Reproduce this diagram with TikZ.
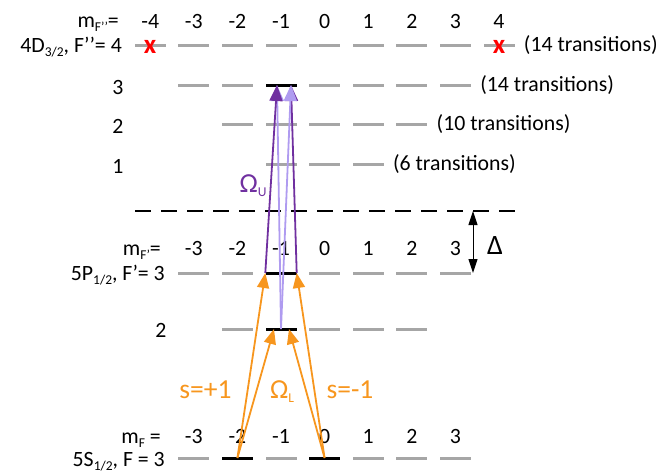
\documentclass[tikz,border=0pt]{standalone}
\usepackage{fontspec}
\setmainfont{Carlito}
\usetikzlibrary{arrows.meta, positioning, calc}

\definecolor{lvlgray}{RGB}{166,166,166}
\definecolor{pumporange}{RGB}{247,150,30}
\definecolor{updark}{RGB}{112,48,160}
\definecolor{uplight}{RGB}{175,155,240}

\newcommand{\sublbl}[1]{\raisebox{-4.5pt}[0pt][0pt]{\fontsize{13.5}{15}\selectfont #1}}

\begin{document}
\begin{tikzpicture}[
    x=1pt, y=-1pt,
    lvl/.style={fill=lvlgray, inner sep=0pt, minimum width=31pt, minimum height=3pt},
    lvlon/.style={lvl, fill=black},
    num/.style={font=\fontsize{21.8}{26}\selectfont, inner sep=0pt},
    lbl/.style={num, anchor=base east},
    trans/.style={num, anchor=west, xshift=9pt},
    xmark/.style={font=\fontsize{27}{30}\selectfont\bfseries, text=red, inner sep=0pt, yshift=-2pt},
    biglbl/.style={font=\fontsize{27.5}{30}\selectfont, inner sep=0pt, anchor=base},
    pump/.style={draw=pumporange, line width=1.8pt, -{Triangle[width=12pt,length=15pt]}},
    coupdark/.style={draw=updark, line width=1.8pt, -{Triangle[width=13pt,length=16pt]}},
    couplight/.style={draw=uplight, line width=1.8pt, -{Triangle[width=13pt,length=16pt]}},
    virt/.style={draw=black, line width=1.2pt, dash pattern=on 16pt off 10pt},
    detune/.style={draw=black, line width=1pt, {Triangle[width=9pt,length=14pt]}-{Triangle[width=9pt,length=14pt]}}
]
\useasboundingbox (0,0) rectangle (660,474);

% -------------------------------------------------------------------------
% Zeeman sublevels, column x = 324.6 + 43.6*m
% -------------------------------------------------------------------------

% 4D_3/2, F'' = 4 ... 1
\foreach \m in {-4,...,4}
    \node[lvl] (D4m\m) at ({324.6+43.6*(\m)}, 45) {};
\foreach \m/\sty in {-3/lvl,-2/lvl,-1/lvlon,0/lvl,1/lvl,2/lvl,3/lvl}
    \node[\sty] (D3m\m) at ({324.6+43.6*(\m)}, 85) {};
\foreach \m in {-2,...,2}
    \node[lvl] (D2m\m) at ({324.6+43.6*(\m)}, 124) {};
\foreach \m in {-1,...,1}
    \node[lvl] (D1m\m) at ({324.6+43.6*(\m)}, 164) {};

% 5P_1/2, F' = 3 and 2
\foreach \m/\sty in {-3/lvl,-2/lvl,-1/lvlon,0/lvl,1/lvl,2/lvl,3/lvl}
    \node[\sty] (P3m\m) at ({324.6+43.6*(\m)}, 273) {};
\foreach \m/\sty in {-2/lvl,-1/lvlon,0/lvl,1/lvl,2/lvl}
    \node[\sty] (P2m\m) at ({324.6+43.6*(\m)}, 329) {};

% 5S_1/2, F = 3
\foreach \m/\sty in {-3/lvl,-2/lvlon,-1/lvl,0/lvlon,1/lvl,2/lvl,3/lvl}
    \node[\sty] (S3m\m) at ({324.6+43.6*(\m)}, 458) {};

% m_F numbers above each manifold
\foreach \m in {-4,...,4}
    \node[num] (nD\m) at ({324.6+43.6*(\m)}, 21.5) {\m};
\foreach \m in {-3,...,3}
    \node[num] (nP\m) at ({324.6+43.6*(\m)}, 248.5) {\m};
\foreach \m in {-3,...,3}
    \node[num] (nS\m) at ({324.6+43.6*(\m)}, 436.5) {\m};

% -------------------------------------------------------------------------
% Left labels
% -------------------------------------------------------------------------
\node[lbl] (mFD) at (119,27) {m\sublbl{F’’}=};
\node[lbl] (lblD4) at (122,52) {4D\sublbl{3/2}, F’’= 4};
\node[num] (lblD3) at (118,87.5) {3};
\node[num] (lblD2) at (118,126.5) {2};
\node[num] (lblD1) at (118,166.5) {1};
\node[lbl] (mFP) at (161,255) {m\sublbl{F’}=};
\node[lbl] (lblP3) at (165,280) {5P\sublbl{1/2}, F’= 3};
\node[num] (lblP2) at (161,330) {2};
\node[lbl] (mFS) at (161,443) {m\sublbl{F} =};
\node[lbl] (lblS3) at (165,466) {5S\sublbl{1/2}, F = 3};

% Right labels
\node[trans] (tD4) at (D4m4.east) {(14 transitions)};
\node[trans] (tD3) at (D3m3.east) {(14 transitions)};
\node[trans] (tD2) at (D2m2.east) {(10 transitions)};
\node[trans] (tD1) at (D1m1.east) {(6 transitions)};

% forbidden stretched states
\node[xmark] (xL) at (D4m-4) {x};
\node[xmark] (xR) at (D4m4) {x};

% -------------------------------------------------------------------------
% Virtual level and detuning
% -------------------------------------------------------------------------
\coordinate (vL) at (135,211);
\coordinate (vR) at (515,211);
\draw[virt] (vL) -- (vR);
\coordinate (dTop) at (473,211);
\coordinate (dBot) at (473,273);
\draw[detune] (dTop) -- (dBot);
\node[num, font=\fontsize{28}{30}\selectfont] (lblDelta) at (495,246) {Δ};

% -------------------------------------------------------------------------
% Lower (orange) and upper (purple) couplings
% -------------------------------------------------------------------------
\draw[pump] (S3m-2.center) -- (P3m-1.west);
\draw[pump] (S3m-2.center) -- ([xshift=-7pt]P2m-1.center);
\draw[pump] (S3m0.center) -- (P3m-1.east);
\draw[pump] (S3m0.center) -- ([xshift=8pt]P2m-1.center);

\draw[couplight] (P2m-1.center) -- ([xshift=-4pt]D3m-1.center);
\draw[coupdark] (P3m-1.east) -- ([xshift=10pt]D3m-1.center);
\draw[coupdark] (P3m-1.west) -- ([xshift=-4pt]D3m-1.center);
\draw[couplight] (P2m-1.center) -- ([xshift=10pt]D3m-1.center);

\node[biglbl, text=pumporange] (sPlus) at (205.5,398) {s=+1};
\node[biglbl, text=pumporange] (OmL) at (282,398) {Ω\sublbl{L}};
\node[biglbl, text=pumporange] (sMinus) at (350,398) {s=-1};
\node[biglbl, text=updark] (OmU) at (253,192) {Ω\sublbl{U}};

\end{tikzpicture}
\end{document}
